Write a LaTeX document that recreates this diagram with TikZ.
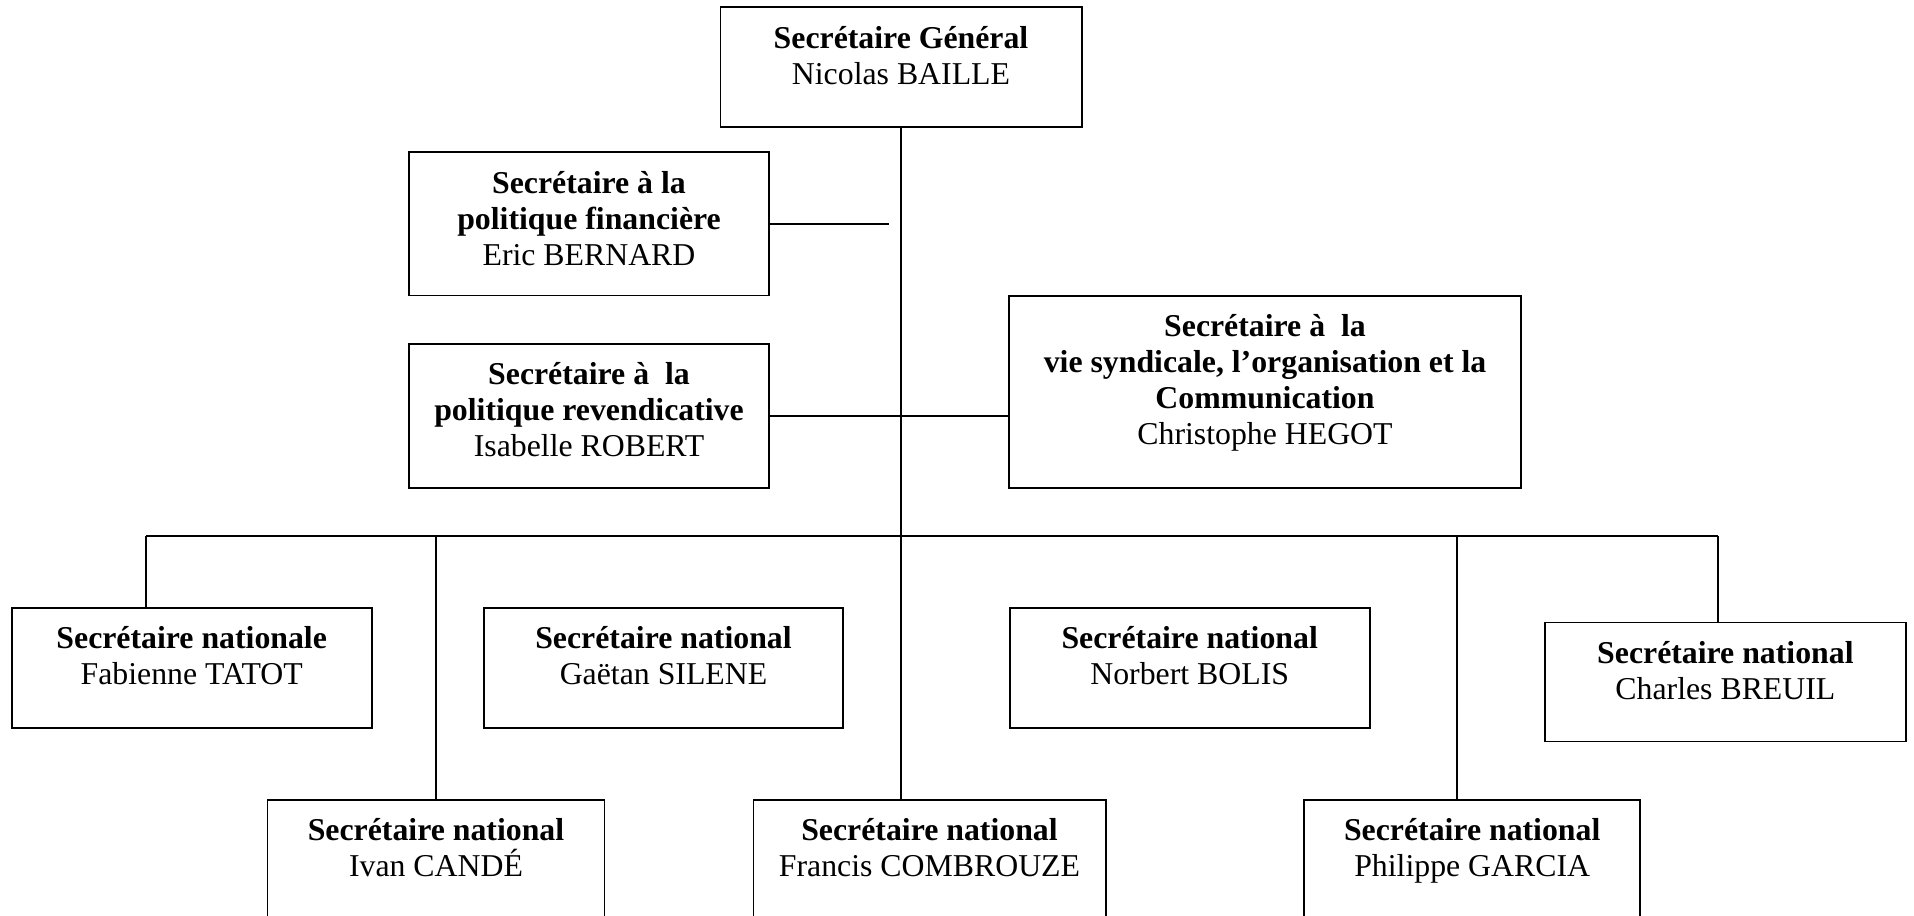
\documentclass[tikz,border=0pt]{standalone}
\usepackage{fontspec}
\setmainfont{Liberation Serif}
\usetikzlibrary{positioning}

\newlength\px
\setlength\px{0.3774pt}

\tikzset{
  secbox/.style={draw=black, line width=0.75pt, rectangle, inner sep=0pt},
  sectext/.style={align=center, anchor=north, inner sep=0pt, font=\fontsize{12}{13.6}\selectfont,
    execute at begin node=\strut},
  link/.style={draw=black, line width=0.5pt}
}

\begin{document}
\begin{tikzpicture}[x=0.3774pt, y=-0.3774pt]
%% page size of the chart, the bottom row of boxes runs off the page
\useasboundingbox (0,0) rectangle (1914,916);
\clip (0,0) rectangle (1914,916);

%% the frames
\node[secbox, minimum width=361\px, minimum height=120\px] (gen) at (901,67.5) {};
\node[secbox, minimum width=360\px, minimum height=143\px] (fin) at (589,224) {};
\node[secbox, minimum width=360\px, minimum height=144\px] (rev) at (589,416) {};
\node[secbox, minimum width=512\px, minimum height=192\px] (chr) at (1265,392) {};

\node[secbox, minimum width=360\px, minimum height=120\px] (fab) at (191.7,668) {};
\node[secbox, minimum width=359\px, minimum height=120\px] (gae) at (663.5,668) {};
\node[secbox, minimum width=360\px, minimum height=120\px] (nor) at (1189.7,668) {};
\node[secbox, minimum width=361\px, minimum height=119\px] (cha) at (1725.4,682) {};

\node[secbox, minimum width=337\px, minimum height=130\px] (iva) at (436,865) {};
\node[secbox, minimum width=352\px, minimum height=130\px] (fra) at (929.5,865) {};
\node[secbox, minimum width=336\px, minimum height=130\px] (phi) at (1472.2,865) {};

%% the texts, set from the top of each frame
\node[sectext] (gen-t) at ([yshift=-19\px]gen.north) {\textbf{Secrétaire Général}\\Nicolas BAILLE};
\node[sectext] (fin-t) at ([yshift=-19\px]fin.north) {\textbf{Secrétaire à la}\\\textbf{politique financière}\\Eric BERNARD};
\node[sectext] (rev-t) at ([yshift=-19\px]rev.north) {\textbf{Secrétaire à\ \ la}\\\textbf{politique revendicative}\\Isabelle ROBERT};
\node[sectext] (chr-t) at ([yshift=-19\px]chr.north) {\textbf{Secrétaire à\ \ la}\\\textbf{vie syndicale, l’organisation et la}\\\textbf{Communication}\\Christophe HEGOT};

\node[sectext] (fab-t) at ([yshift=-19\px]fab.north) {\textbf{Secrétaire nationale}\\Fabienne TATOT};
\node[sectext] (gae-t) at ([yshift=-19\px]gae.north) {\textbf{Secrétaire national}\\Gaëtan SILENE};
\node[sectext] (nor-t) at ([yshift=-19\px]nor.north) {\textbf{Secrétaire national}\\Norbert BOLIS};
\node[sectext] (cha-t) at ([yshift=-19\px]cha.north) {\textbf{Secrétaire national}\\Charles BREUIL};

\node[sectext] (iva-t) at ([yshift=-19\px]iva.north) {\textbf{Secrétaire national}\\Ivan CANDÉ};
\node[sectext] (fra-t) at ([yshift=-19\px]fra.north) {\textbf{Secrétaire national}\\Francis COMBROUZE};
\node[sectext] (phi-t) at ([yshift=-19\px]phi.north) {\textbf{Secrétaire national}\\Philippe GARCIA};

%% the lines
\coordinate (finEnd) at (889,224);
\coordinate (busL) at (146,536);
\coordinate (busR) at (1718,536);
\coordinate (busP) at (1457,536);

\draw[link] (gen.south) -- (gen.south |- fra.north);
\draw[link] (fin.east) -- (finEnd);
\draw[link] (rev.east) -- (rev.east -| chr.west);
\draw[link] (busL) -- (busR);
\draw[link] (busL) -- (busL |- fab.north);
\draw[link] (iva.north |- busL) -- (iva.north);
\draw[link] (busP) -- (busP |- phi.north);
\draw[link] (busR) -- (busR |- cha.north);

\end{tikzpicture}
\end{document}
